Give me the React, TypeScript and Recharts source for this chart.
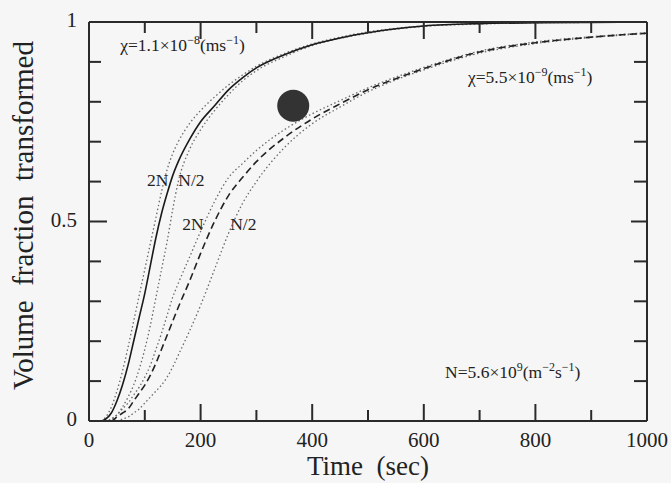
import React from 'react';
import { LineChart, Line, XAxis, YAxis, ReferenceDot } from 'recharts';

const times = [0, 20, 30, 40, 50, 60, 70, 80, 90, 100, 110, 120, 130, 140, 150, 160, 180, 200, 225, 250, 275, 300, 350, 400, 450, 500, 550, 600, 700, 800, 900, 1000];

// chi = 1.1e-8, nominal N (solid)
const chi1 = [0, 0, 0.005, 0.02, 0.05, 0.09, 0.14, 0.2, 0.26, 0.32, 0.39, 0.46, 0.52, 0.57, 0.615, 0.65, 0.705, 0.75, 0.79, 0.83, 0.86, 0.885, 0.918, 0.943, 0.96, 0.973, 0.983, 0.99, 0.996, 0.998, 0.999, 1];
// chi = 1.1e-8, 2N (dotted)
const chi1TwoN = [0, 0, 0.01, 0.035, 0.075, 0.125, 0.185, 0.25, 0.315, 0.38, 0.445, 0.51, 0.575, 0.63, 0.67, 0.7, 0.745, 0.778, 0.812, 0.842, 0.867, 0.889, 0.921, 0.945, 0.962, 0.975, 0.984, 0.99, 0.996, 0.998, 0.999, 1];
// chi = 1.1e-8, N/2 (dotted)
const chi1HalfN = [0, 0, 0, 0.005, 0.015, 0.035, 0.06, 0.09, 0.13, 0.18, 0.24, 0.31, 0.38, 0.45, 0.53, 0.6, 0.68, 0.73, 0.778, 0.818, 0.852, 0.878, 0.913, 0.941, 0.959, 0.972, 0.982, 0.989, 0.995, 0.998, 0.999, 1];
// chi = 5.5e-9, nominal N (dashed)
const chi2 = [0, 0, 0, 0, 0.01, 0.02, 0.03, 0.05, 0.07, 0.09, 0.115, 0.145, 0.18, 0.215, 0.25, 0.285, 0.35, 0.42, 0.5, 0.565, 0.61, 0.65, 0.71, 0.757, 0.795, 0.83, 0.858, 0.883, 0.925, 0.948, 0.962, 0.972];
// chi = 5.5e-9, 2N (dotted)
const chi2TwoN = [0, 0, 0, 0.005, 0.015, 0.03, 0.045, 0.065, 0.085, 0.11, 0.14, 0.18, 0.22, 0.265, 0.31, 0.345, 0.41, 0.475, 0.55, 0.61, 0.645, 0.678, 0.73, 0.77, 0.803, 0.835, 0.862, 0.886, 0.927, 0.95, 0.963, 0.973];
// chi = 5.5e-9, N/2 (dotted)
const chi2HalfN = [0, 0, 0, 0, 0, 0.005, 0.01, 0.02, 0.03, 0.045, 0.06, 0.075, 0.09, 0.11, 0.135, 0.165, 0.225, 0.29, 0.38, 0.47, 0.545, 0.6, 0.685, 0.745, 0.787, 0.825, 0.855, 0.88, 0.922, 0.946, 0.961, 0.971];

const xTicks = [0, 100, 200, 300, 400, 500, 600, 700, 800, 900, 1000];
const xTickLabels = [0, 200, 400, 600, 800, 1000];
const yTicks = [0, 0.1, 0.2, 0.3, 0.4, 0.5, 0.6, 0.7, 0.8, 0.9, 1];
const yLabelValues = [0, 0.5, 1];
const yLabelTexts = ['0', '0.5', '1'];

const blot = { t: 366, f: 0.79 };

const rows = times.map((t, i) => ({
  t,
  chi1: chi1[i],
  chi1TwoN: chi1TwoN[i],
  chi1HalfN: chi1HalfN[i],
  chi2: chi2[i],
  chi2TwoN: chi2TwoN[i],
  chi2HalfN: chi2HalfN[i],
}));

const FONT = '"Liberation Serif", "Times New Roman", "DejaVu Serif", serif';
const AX = '#2a2a2a';
const TXT = '#222';
const tStyle = { fontFamily: FONT, whiteSpace: 'pre' as const };

const near = (a: number, b: number) => Math.abs(a - b) < 1e-6;
const isMajorY = (v: number) => yLabelValues.some((m) => near(m, v));

const BottomTick = (props: any) => {
  const { x, y, payload } = props;
  const v = payload.value;
  const major = v % 200 === 0;
  const len = major ? 17 : 11;
  const showLine = v !== 0 && v !== 1000;
  return (
    <g>
      {showLine && <line x1={x} y1={y} x2={x} y2={y - len} stroke={AX} strokeWidth={2} />}
      {xTickLabels.includes(v) && (
        <text x={x} y={y + 26} textAnchor="middle" fontSize={21} style={tStyle} fill={TXT}>
          {v}
        </text>
      )}
    </g>
  );
};

const TopTick = (props: any) => {
  const { x, y, payload } = props;
  const v = payload.value;
  const major = v % 200 === 0;
  const len = major ? 17 : 11;
  if (v === 0 || v === 1000) return <g />;
  return <line x1={x} y1={y} x2={x} y2={y + len} stroke={AX} strokeWidth={2} />;
};

const LeftTick = (props: any) => {
  const { x, y, payload } = props;
  const v = payload.value;
  const major = near(v, 0.5);
  const len = major ? 18 : 12;
  const idx = yLabelValues.findIndex((m) => near(m, v));
  const showLine = !near(v, 0) && !near(v, 1);
  return (
    <g>
      {showLine && <line x1={x} y1={y} x2={x + len} y2={y} stroke={AX} strokeWidth={2} />}
      {idx >= 0 && (
        <text x={x - 12} y={y + 5} textAnchor="end" fontSize={21} style={tStyle} fill={TXT}>
          {yLabelTexts[idx]}
        </text>
      )}
    </g>
  );
};

const RightTick = (props: any) => {
  const { x, y, payload } = props;
  const v = payload.value;
  if (near(v, 0) || near(v, 1)) return <g />;
  const len = isMajorY(v) ? 16 : 13;
  return <line x1={x} y1={y} x2={x - len} y2={y} stroke={AX} strokeWidth={2} />;
};

const XTitle = (props: any) => {
  const vb = props.viewBox || { x: 89, y: 421, width: 558, height: 1 };
  return (
    <text x={vb.x + vb.width / 2} y={vb.y + 54} textAnchor="middle" fontSize={27} style={tStyle} fill={TXT}>
      {'Time  (sec)'}
    </text>
  );
};

const YTitle = (props: any) => {
  const vb = props.viewBox || { x: 88, y: 22, width: 1, height: 399 };
  const cx = vb.x + vb.width - 56;
  const cy = vb.y + vb.height / 2 - 6;
  return (
    <text x={cx} y={cy} transform={`rotate(-90, ${cx}, ${cy})`} textAnchor="middle" fontSize={29} style={tStyle} fill={TXT}>
      {'Volume  fraction  transformed'}
    </text>
  );
};

const SUP = 12;
const SH = 7;

const annot = (content: (x: number, y: number) => React.ReactNode) => (p: any) => {
  if (p.cx == null || p.cy == null) return <g />;
  return <g>{content(p.cx, p.cy)}</g>;
};

const chi1Label = annot((x, y) => (
  <text x={x} y={y} fontSize={17.5} style={tStyle} fill={TXT}>
    χ=1.1×10
    <tspan dy={-SH} fontSize={SUP}>−8</tspan>
    <tspan dy={SH}>(ms</tspan>
    <tspan dy={-SH} fontSize={SUP}>−1</tspan>
    <tspan dy={SH}>)</tspan>
  </text>
));

const chi2Label = annot((x, y) => (
  <text x={x} y={y} fontSize={17.5} style={tStyle} fill={TXT}>
    χ=5.5×10
    <tspan dy={-SH} fontSize={SUP}>−9</tspan>
    <tspan dy={SH}>(ms</tspan>
    <tspan dy={-SH} fontSize={SUP}>−1</tspan>
    <tspan dy={SH}>)</tspan>
  </text>
));

const nLabel = annot((x, y) => (
  <text x={x} y={y} fontSize={17.5} style={tStyle} fill={TXT}>
    N=5.6×10
    <tspan dy={-SH} fontSize={SUP}>9</tspan>
    <tspan dy={SH}>(m</tspan>
    <tspan dy={-SH} fontSize={SUP}>−2</tspan>
    <tspan dy={SH}>s</tspan>
    <tspan dy={-SH} fontSize={SUP}>−1</tspan>
    <tspan dy={SH}>)</tspan>
  </text>
));

const simpleLabel = (s: string) =>
  annot((x, y) => (
    <text x={x} y={y} fontSize={17.5} style={tStyle} fill={TXT}>
      {s}
    </text>
  ));

const dottedProps = {
  type: 'monotone' as const,
  stroke: '#6a6a6a',
  strokeWidth: 1.3,
  strokeDasharray: '1.5 2.5',
  dot: false,
  isAnimationActive: false,
};

export default function App() {
  return (
    <div style={{ position: 'absolute', left: 0, top: 0, width: 671, height: 483, background: '#f6f6f6' }}>
      <LineChart width={671} height={483} data={rows} margin={{ top: 21, right: 23, bottom: 61, left: 88 }}>
        <XAxis
          dataKey="t"
          type="number"
          domain={[0, 1000]}
          ticks={xTicks}
          interval={0}
          height={1}
          tickSize={0}
          tickMargin={0}
          tickLine={false}
          axisLine={{ stroke: AX, strokeWidth: 2 }}
          tick={BottomTick}
          allowDataOverflow
          label={XTitle}
        />
        <XAxis
          xAxisId="top"
          orientation="top"
          dataKey="t"
          type="number"
          domain={[0, 1000]}
          ticks={xTicks}
          interval={0}
          height={1}
          tickSize={0}
          tickMargin={0}
          tickLine={false}
          axisLine={{ stroke: AX, strokeWidth: 2 }}
          tick={TopTick}
          allowDataOverflow
        />
        <YAxis
          type="number"
          domain={[0, 1]}
          ticks={yTicks}
          interval={0}
          width={1}
          tickSize={0}
          tickMargin={0}
          tickLine={false}
          axisLine={{ stroke: AX, strokeWidth: 2 }}
          tick={LeftTick}
          allowDataOverflow
          label={YTitle}
        />
        <YAxis
          yAxisId="right"
          orientation="right"
          type="number"
          domain={[0, 1]}
          ticks={yTicks}
          interval={0}
          width={1}
          tickSize={0}
          tickMargin={0}
          tickLine={false}
          axisLine={{ stroke: AX, strokeWidth: 2 }}
          tick={RightTick}
          allowDataOverflow
        />
        <Line dataKey="chi1TwoN" {...dottedProps} />
        <Line dataKey="chi1HalfN" {...dottedProps} />
        <Line dataKey="chi2TwoN" {...dottedProps} />
        <Line dataKey="chi2HalfN" {...dottedProps} />
        <Line dataKey="chi2" type="monotone" stroke="#222" strokeWidth={1.6} strokeDasharray="7 4" dot={false} isAnimationActive={false} />
        <Line dataKey="chi1" type="monotone" stroke="#1a1a1a" strokeWidth={1.6} dot={false} isAnimationActive={false} />
        <ReferenceDot x={blot.t} y={blot.f} r={16} fill="#333" stroke="none" />
        <ReferenceDot x={56} y={0.927} r={0} shape={chi1Label} />
        <ReferenceDot x={679} y={0.847} r={0} shape={chi2Label} />
        <ReferenceDot x={638} y={0.108} r={0} shape={nLabel} />
        <ReferenceDot x={104} y={0.589} r={0} shape={simpleLabel('2N')} />
        <ReferenceDot x={160} y={0.589} r={0} shape={simpleLabel('N/2')} />
        <ReferenceDot x={167} y={0.479} r={0} shape={simpleLabel('2N')} />
        <ReferenceDot x={253} y={0.479} r={0} shape={simpleLabel('N/2')} />
      </LineChart>
    </div>
  );
}
